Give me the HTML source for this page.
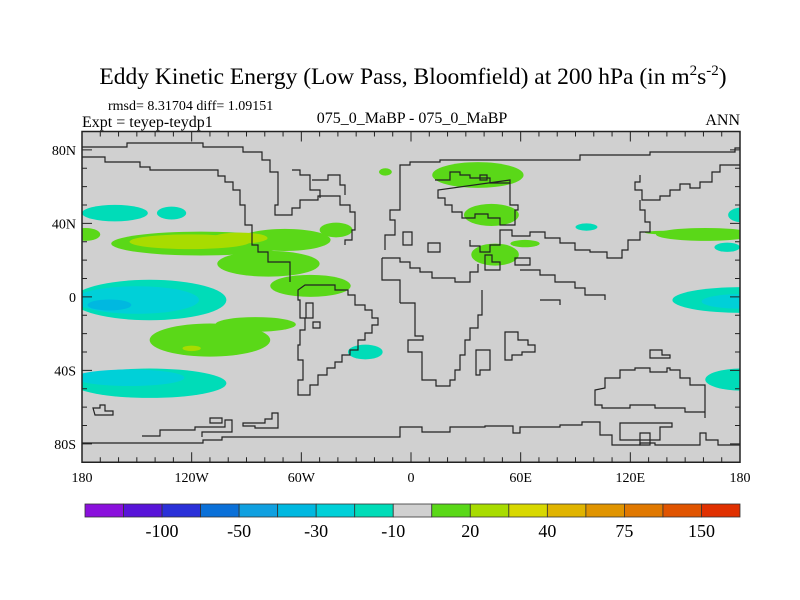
<!DOCTYPE html>
<html><head><meta charset="utf-8"><style>
html,body{margin:0;padding:0;background:#fff;}
svg{display:block;font-family:"Liberation Serif",serif;}
</style></head><body>
<svg id="chart" width="800" height="600" viewBox="0 0 800 600">
<text x="413" y="84" font-size="23.5" text-anchor="middle">Eddy Kinetic Energy (Low Pass, Bloomfield) at 200 hPa (in m<tspan dy="-9" font-size="15">2</tspan><tspan dy="9">s</tspan><tspan dy="-9" font-size="15">-2</tspan><tspan dy="9">)</tspan></text>
<text x="108" y="110" font-size="14">rmsd= 8.31704 diff= 1.09151</text>
<text x="82" y="127" font-size="16">Expt = teyep-teydp1</text>
<text x="412" y="123" font-size="16" text-anchor="middle">075_0_MaBP - 075_0_MaBP</text>
<text x="740" y="125" font-size="16" text-anchor="end">ANN</text>
<defs><clipPath id="pc"><rect x="82" y="131.5" width="658" height="330.75"/></clipPath></defs>
<rect x="82" y="131.5" width="658" height="330.75" fill="#d0d0d0"/>
<g id="fills" clip-path="url(#pc)"></g>
<g id="coast" clip-path="url(#pc)" fill="none" stroke="#222" stroke-width="1.2"></g>
<g id="ticks" stroke="#222" stroke-width="1"></g>
<rect x="82" y="131.5" width="658" height="330.75" fill="none" stroke="#222" stroke-width="1.5"/>
<g id="labels" font-size="14"></g>
<g id="cbar"></g>
</svg>
<script>
const levelColors=["#8a10dc","#5814d8","#2a30d8","#0a70d8","#10a0e0","#00b8e0","#00d0d8","#00dcb8","#d0d0d0","#5ad818","#a8dc00","#d8d800","#e0b400","#e09400","#e07800","#e05400","#e03000"];
const levelLabels=["-100","-50","-30","-10","20","40","75","150"];
const lonTicks=[-180,-120,-60,0,60,120,180];
const lonTickLabels=["180","120W","60W","0","60E","120E","180"];
const latTicks=[80,40,0,-40,-80];
const latTickLabels=["80N","40N","0","40S","80S"];
// blobs: lon, lat, half-width lon, half-height lat, color level index
const blobLon=[-115,-78,-55,-69,-41,-178,-121,-93.5,-162,-131,-143,-150,-165,-110,-85,-120,-143,-154,-25,181,181,181,161,140,173,96,181,36.6,44,46,62.4,-14];
const blobLat=[29,18,6,31,36.4,34,30,32,45.6,45.6,-1.7,-1.7,-4.4,-23.5,-15,-28,-47,-44,-30,-1.7,-2.5,44.6,34,35,27,38,-45,66.3,44.6,23,29,68];
const blobRLon=[49,28,22,25,9,8,33,15,18,8,42,34,12,33,22,5,42,30,9.5,38,22,7.5,27,12,7,6,20,25,15,13,8,3.5];
const blobRLat=[6.5,7,6,6,4,3.5,4,3,4.5,3.5,11,7.5,3,9,4,1.5,8,4.5,4,7,4,4,3.5,1,2.5,2,6,7,6,6,2,2];
const blobLevel=[9,9,9,9,9,9,10,10,7,7,7,6,5,9,9,10,7,6,7,7,6,7,9,9,7,7,7,9,9,9,9,9];

const X0=82,X1=740,Y0=131.5,Y1=462.25;
function xScale(lon){return X0+(lon+180)/360*(X1-X0);}
function yScale(lat){return Y0+(90-lat)/180*(Y1-Y0);}
const NS="http://www.w3.org/2000/svg";
function mk(tag,attrs,parent){const e=document.createElementNS(NS,tag);for(const k in attrs)e.setAttribute(k,attrs[k]);parent.appendChild(e);return e;}

const fills=document.getElementById('fills');
blobLon.forEach((lon,i)=>{
  const e=mk('ellipse',{cx:xScale(lon),cy:yScale(blobLat[i]),rx:blobRLon[i]/360*(X1-X0),ry:blobRLat[i]/180*(Y1-Y0),fill:levelColors[blobLevel[i]]},fills);
  
  
});

const coastPaths=[
"M82,157 H105 V162 H140 V167 H150 V170 H218 V176 H225 V182 H233 V190 H240 V205 H245 V225 H252 V245 H258 V252 H268 V262 H290 V282",
"M82,147 H127 V143 H203 V147 H243 V152 H262 V160 H270 V172 H278 V205 H275 V215 H292 V208 H300 V200 H318 V196 H340 V205 H350 V212 H355 V230 H352 V240 H345 V245",
"M292,170 H300 V175 H310 V190 H320 V198 M312,180 H328 V175 H340 V185 H345 V195",
"M305,285 H335 V290 H348 V295 H355 V305 H365 V310 H372 V318 H378 V325 H372 V333 H365 V340 H358 V350 H350 V355 H342 V362 H335 V368 H327 V375 H318 V385 H310 V395 H298 V380 H303 V360 H298 V345 H300 V330 H305 V318 H300 V300 H298 V290 Z",
"M306,303 H313 V318 H306 Z M313,322 H320 V328 H313 Z",
"M382,258 H400 V262 H410 V268 H420 V272 H432 V278 H455 V282 H470 V272 H478 V264",
"M400,303 H415 V336 H423 V340 H408 V352 H422 V380 H436 V386 H450 V380 H455 V370 H460 V355 H465 V340 H470 V328 H478 V315 H482 V300 H482 V290",
"M382,258 V280 H400 V303",
"M385,250 V235 H395 V220 H390 V210 H400 V165 H410 V162 H440 V160 H580 V155 H650 V152 H735 V148 H742",
"M742,165 H720 V172 H712 V182 H700 V188 H690 V184 H680 V190 H670 V196 H660 V200 H642 V190 H635 V182 H640 V175",
"M640,200 V210 H645 V222 H650 V232 H640 V240 H628 V250 H622 V258 H607 V252 H590 V250 H575 V243 H560 V238 H545 V232 H530 V236 H512 V230 H500 V245 H490 V252 H480 V246 H470 V240",
"M435,180 H450 V172 H460 V175 H470 V178 H490 V183 H510 V180 M510,180 V205 H518 V210 H515 V225 H500 V218 H488 V214 H475 V218 H462 V212 H452 V205 H445 V198 H438 V190 Z",
"M480,175 H487 V180 H480 Z M485,255 H492 V262 H500 V270 H485 Z M515,258 H530 V265 H515 Z",
"M403,232 H412 V245 H403 Z M428,243 H440 V252 H428 Z",
"M520,270 H540 V275 H555 V282 H575 V288 H585 V295 H605 V300 M540,300 H560 V305",
"M595,390 V405 H602 V408 H630 V405 H655 V408 H685 V412 H705 V418 V385 H690 V378 H680 V370 H670 V368 H667 V372 H650 V368 H635 V370 H620 V378 H605 V388 Z",
"M505,332 H518 V340 H528 V345 H535 V352 H522 V355 H512 V360 H505 Z",
"M476,350 H490 V370 H480 V375 H476 Z",
"M650,350 H662 V355 H670 V358 H650 Z",
"M82,443 H203 V440 H222 V437 H400 V427 H422 V432 H450 V427 H485 V426 H513 V433 H520 V427 H560 V425 H582 V422 H600 V435 H612 V445 H640 V443 H655 V445 H700 V433 H706 V440 H718 V445 H742",
"M142,436 H160 V430 H195 V427 H225 V420 H232 V432 H202 V437",
"M93,408 H100 V405 H105 V411 H113 V415 H95 Z M210,418 H222 V423 H210 Z",
"M243,423 H265 V419 H272 V413 H278 V428 H255 V426 H243 Z",
"M620,423 H672 V427 H660 V440 H620 Z M640,433 H650 V445 H640 Z"
];
const coast=document.getElementById('coast');
coastPaths.forEach(d=>{const p=mk('path',{d:d},coast);
  
  });

const tg=document.getElementById('ticks');
for(let lon=-180;lon<=180;lon+=10){
  const major=lon%60===0, L=major?10:5, x=xScale(lon);
  mk('line',{x1:x,y1:Y1,x2:x,y2:Y1-L},tg);
  mk('line',{x1:x,y1:Y0,x2:x,y2:Y0+L},tg);
}
for(let lat=-80;lat<=80;lat+=10){
  const major=lat%40===0, L=major?10:5, y=yScale(lat);
  mk('line',{x1:X0,y1:y,x2:X0+L,y2:y},tg);
  mk('line',{x1:X1,y1:y,x2:X1-L,y2:y},tg);
}
const lg=document.getElementById('labels');
lonTicks.forEach((lon,i)=>{const t=mk('text',{x:xScale(lon),y:482,'text-anchor':'middle'},lg);t.textContent=lonTickLabels[i];
  
  });
latTicks.forEach((lat,i)=>{const t=mk('text',{x:76,y:yScale(lat)+5,'text-anchor':'end'},lg);t.textContent=latTickLabels[i];
  
  });

const cb=document.getElementById('cbar');
const cbX=85,cbW=655,cbY=504,cbH=13,bw=cbW/levelColors.length;
levelColors.forEach((c,i)=>{const r=mk('rect',{x:cbX+i*bw,y:cbY,width:bw,height:cbH,fill:c,stroke:"#333","stroke-width":0.8},cb);
  
  });
levelLabels.forEach((s,i)=>{const t=mk('text',{x:cbX+(2*i+2)*bw,y:537,'text-anchor':'middle','font-size':18},cb);t.textContent=s;
  
  });
</script>
</body></html>
